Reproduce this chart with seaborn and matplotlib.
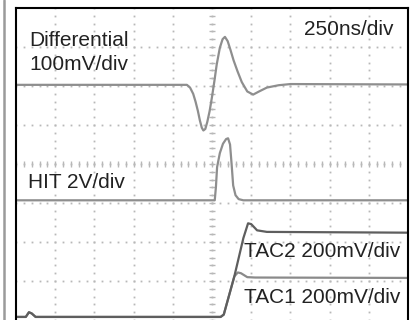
import numpy as np
import pandas as pd
import matplotlib
matplotlib.use("Agg")
import matplotlib.pyplot as plt
from matplotlib.lines import Line2D
import seaborn as sns

# ---- data (divisions: x 0..10, y 0..8) ----
diff_x = [0, 4.36, 4.44, 4.52, 4.58, 4.64, 4.69, 4.74, 4.78, 4.83, 4.88, 4.94, 5.0,
          5.06, 5.12, 5.20, 5.27, 5.33, 5.40, 5.47, 5.55, 5.65, 5.76, 5.90, 6.05,
          6.20, 6.40, 6.70, 7.0, 10]
diff_y = [6.03, 6.03, 5.96, 5.80, 5.60, 5.36, 5.12, 4.93, 4.86, 4.90, 5.08, 5.36, 5.72,
          6.12, 6.55, 6.98, 7.20, 7.26, 7.15, 6.93, 6.66, 6.38, 6.10, 5.86, 5.78,
          5.86, 5.96, 6.02, 6.05, 6.04]

hit_x = [0, 5.07, 5.10, 5.13, 5.20, 5.28, 5.36, 5.41, 5.46, 5.50, 5.54, 5.60, 5.68, 5.80, 10]
hit_y = [3.07, 3.07, 3.41, 3.92, 4.28, 4.52, 4.64, 4.66, 4.50, 4.00, 3.45, 3.20, 3.10, 3.07, 3.07]

tac1_x = [0, 0.25, 0.33, 0.40, 0.50, 5.22, 5.30, 5.57, 5.66, 5.74, 5.90, 6.10, 10]
tac1_y = [0.08, 0.08, 0.20, 0.17, 0.08, 0.08, 0.14, 1.12, 1.22, 1.20, 1.10, 1.09, 1.08]

tac2_x = [0, 0.25, 0.33, 0.40, 0.50, 5.22, 5.30, 5.57, 5.80, 5.92, 6.00, 6.15, 6.40, 10]
tac2_y = [0.08, 0.08, 0.20, 0.17, 0.08, 0.08, 0.14, 1.12, 2.10, 2.48, 2.46, 2.30, 2.26, 2.24]

labels = ["Differential\n100mV/div", "HIT 2V/div", "TAC2 200mV/div", "TAC1 200mV/div"]
timebase = "250ns/div"

sns.set_style("white")
plt.rcParams['font.family'] = ['Liberation Sans', 'DejaVu Sans']

fig = plt.figure(figsize=(4.14, 3.2), dpi=100)
ax = fig.add_axes([16/414, -2/320, 392/414, 314/320])
ax.set_xlim(0, 10)
ax.set_ylim(-0.05, 8)

# graticule dots
gc = '#b8b8b8'
for gy in range(1, 8):
    xs = np.arange(0, 10.01, 0.2)
    ax.plot(xs, np.full_like(xs, gy), ls='none', marker='s', ms=1.3, color=gc, mew=0)
for gx in range(1, 10):
    ys = np.arange(0, 8.01, 0.2)
    ax.plot(np.full_like(ys, gx), ys, ls='none', marker='s', ms=1.3, color=gc, mew=0)
# center ticks
ys = np.arange(0, 8.01, 0.2)
ax.plot(np.full_like(ys, 5), ys, ls='none', marker='_', ms=4, color=gc, mew=1.0)
xs = np.arange(0, 10.01, 0.2)
ax.plot(xs, np.full_like(xs, 4), ls='none', marker='|', ms=4, color=gc, mew=1.0)

# traces
df = pd.concat([
    pd.DataFrame({'t': diff_x, 'v': diff_y, 'ch': 'diff'}),
    pd.DataFrame({'t': hit_x, 'v': hit_y, 'ch': 'hit'}),
    pd.DataFrame({'t': tac1_x, 'v': tac1_y, 'ch': 'tac1'}),
    pd.DataFrame({'t': tac2_x, 'v': tac2_y, 'ch': 'tac2'}),
])
pal = {'diff': '#8e8e8e', 'hit': '#8e8e8e', 'tac1': '#8a8a8a', 'tac2': '#5e5e5e'}
sns.lineplot(data=df, x='t', y='v', hue='ch', palette=pal, sort=False,
             estimator=None, units='ch', lw=1.6, legend=False, ax=ax)
for ln in ax.get_lines()[-4:]:
    ln.set_solid_joinstyle('round')

ax.set_xlabel('')
ax.set_ylabel('')
ax.set_xticks([])
ax.set_yticks([])
for s in ['left', 'top', 'right']:
    ax.spines[s].set_color('black')
    ax.spines[s].set_linewidth(1.5)
ax.spines['bottom'].set_visible(False)

tc = '#222222'
fs = 15
ax.text(0.33, 7.03, "Differential", fontsize=fs, color=tc, va='baseline', ha='left')
ax.text(0.33, 6.41, "100mV/div", fontsize=fs, color=tc, va='baseline', ha='left')
ax.text(9.64, 7.31, timebase, fontsize=fs, color=tc, va='baseline', ha='right')
ax.text(0.31, 3.38, labels[1], fontsize=fs, color=tc, va='baseline', ha='left')
ax.text(9.8, 1.62, labels[2], fontsize=fs, color=tc, va='baseline', ha='right')
ax.text(9.8, 0.44, labels[3], fontsize=fs, color=tc, va='baseline', ha='right')

# grey side bar
fig.add_artist(Line2D([4/414, 4/414], [0, 1], color='#9a9a9a', lw=1.8))

fig.savefig('out.png', dpi=100)
